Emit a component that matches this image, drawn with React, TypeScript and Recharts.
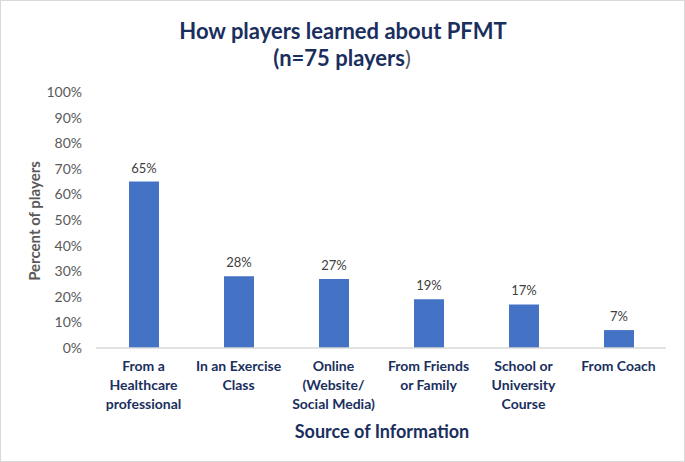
import React from "react"
import { BarChart, Bar, XAxis, YAxis, LabelList, Customized } from "recharts"

const sources = [
  "From a|Healthcare|professional",
  "In an Exercise|Class",
  "Online|(Website/|Social Media)",
  "From Friends|or Family",
  "School or|University|Course",
  "From Coach",
]
const percents = [65, 28, 27, 19, 17, 7]
const yTicks = [0, 10, 20, 30, 40, 50, 60, 70, 80, 90, 100]

const data = sources.map((s, i) => ({ source: s, pct: percents[i] }))

const FONT = "Lato, 'Open Sans', sans-serif"
const NAVY = "#1A2F5E"
const GRAY = "#595959"

// multi-line category label, lines split on "|"
function SourceTick(props: any) {
  const { x, y, payload } = props
  const lines = String(payload.value).split("|")
  return (
    <text
      x={x}
      y={y}
      textAnchor="middle"
      fill={NAVY}
      fontSize={14}
      fontWeight={700}
      fontFamily={FONT}
    >
      {lines.map((l, i) => (
        <tspan key={i} x={x} dy={i === 0 ? 15 : 19}>
          {l}
        </tspan>
      ))}
    </text>
  )
}

function Titles() {
  return (
    <g fontFamily={FONT}>
      <text x={342} y={38} textAnchor="middle" fill={NAVY} fontSize={22} fontWeight={700}>
        How players learned about PFMT
      </text>
      <text x={341} y={65} textAnchor="middle" fill={NAVY} fontSize={22} fontWeight={700}>
        (n=75 players<tspan fontWeight={400} fill={GRAY}>)</tspan>
      </text>
      <text x={381} y={437} textAnchor="middle" fill={NAVY} fontSize={18} fontWeight={700}>
        Source of Information
      </text>
      <text
        x={39}
        y={220}
        textAnchor="middle"
        fill={GRAY}
        fontSize={15}
        fontWeight={700}
        transform="rotate(-90 39 220)"
      >
        Percent of players
      </text>
    </g>
  )
}

export default function App() {
  return (
    <div
      style={{
        position: "absolute",
        left: 0,
        top: 0,
        width: 683,
        height: 460,
        border: "1px solid #D9D9D9",
        background: "#fff",
      }}
    >
      <BarChart
        width={683}
        height={460}
        data={data}
        margin={{ top: 91, right: 18, bottom: 43, left: 41 }}
      >
        <XAxis
          dataKey="source"
          height={70}
          tickLine={false}
          axisLine={{ stroke: "#D9D9D9", strokeWidth: 1.5 }}
          tick={<SourceTick />}
          interval={0}
        />
        <YAxis
          width={54}
          domain={[0, 100]}
          ticks={yTicks}
          tickFormatter={(v) => `${v}%`}
          axisLine={false}
          tickLine={false}
          tickMargin={8}
          tick={{ fill: GRAY, fontSize: 14, fontFamily: FONT }}
        />
        <Bar dataKey="pct" fill="#4472C4" barSize={30} isAnimationActive={false}>
          <LabelList
            dataKey="pct"
            position="top"
            offset={9}
            formatter={(v: any) => `${v}%`}
            style={{ fill: "#404040", fontSize: 13, fontFamily: FONT }}
          />
        </Bar>
        <Customized component={<Titles />} />
      </BarChart>
    </div>
  )
}
